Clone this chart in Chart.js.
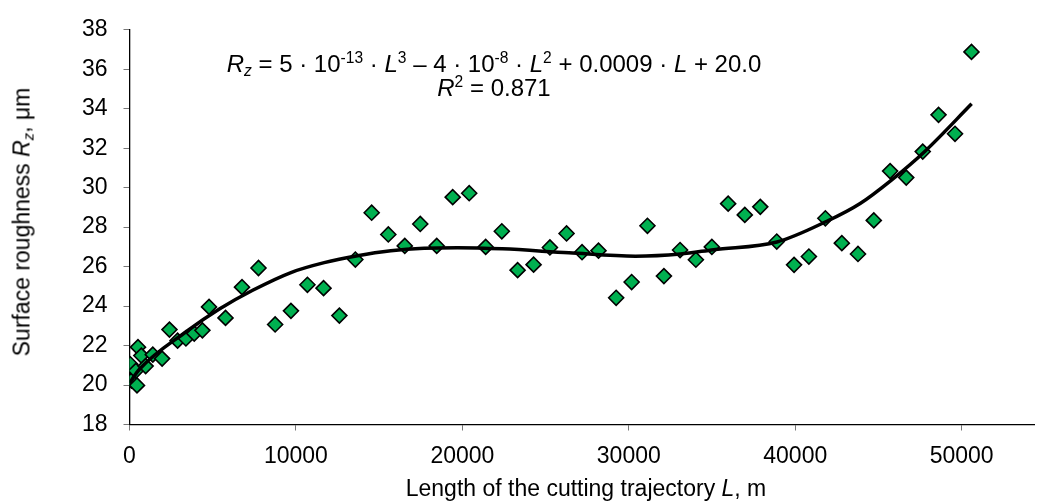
<!DOCTYPE html>
<html>
<head>
<meta charset="utf-8">
<script src="https://cdn.jsdelivr.net/npm/chart.js@4.4.1/dist/chart.umd.min.js"></script>
<style>
    body { margin: 0; background: #fff; }
    #wrap { position: relative; width: 1044px; height: 504px; font-family: "Liberation Sans", Arial, sans-serif; color: #000; }
    #chart { position: absolute; left: 0; top: 0; }
    .lbl { position: absolute; white-space: nowrap; font-size: 23px; line-height: 23px; }
    #eq { position: absolute; left: 494px; top: 52px; transform: translateX(-50%); text-align: center; white-space: nowrap; font-size: 24px; line-height: 24px; }
    sup, sub { font-size: 0.65em; line-height: 0; }
    sup { vertical-align: 0.55em; }
    sub { vertical-align: -0.25em; }
    #ytitle { left: 22px; top: 222px; transform: translate(-50%, -50%) rotate(-90deg); }
    #xtitle { left: 586px; top: 477px; transform: translateX(-50%); }
</style>
</head>
<body>
<div id="wrap">
    <canvas id="chart" width="1044" height="504"></canvas>
    <div id="eq"><i>R</i><sub><i>z</i></sub> = 5 · 10<sup>-13</sup> · <i>L</i><sup>3</sup> – 4 · 10<sup>-8</sup> · <i>L</i><sup>2</sup> + 0.0009 · <i>L</i> + 20.0<br><i>R</i><sup>2</sup> = 0.871</div>
    <div class="lbl" id="ytitle">Surface roughness <i>R</i><sub><i>z</i></sub>, μm</div>
    <div class="lbl" id="xtitle">Length of the cutting trajectory <i>L</i>, m</div>
</div>
<script>
/* =======================
   DATA
======================= */
const lengthL = [50, 120, 380, 450, 510, 710, 970, 1400, 1960, 2400, 2890, 3390, 3890, 4380, 4780,
    5770, 6760, 7750, 8750, 9700, 10690, 11660, 12610, 13570, 14550, 15550, 16540, 17470, 18460,
    19420, 20410, 21400, 22370, 23320, 24280, 25260, 26260, 27190, 28180, 29240, 30170, 31120,
    32110, 33080, 34030, 34990, 35970, 36970, 37900, 38890, 39930, 40820, 41810, 42800, 43770,
    44720, 45700, 46670, 47660, 48610, 49600, 50590];
const roughness = [21.05, 20.22, 20.72, 19.98, 21.92, 21.49, 20.96, 21.54, 21.34, 22.81, 22.25, 22.36, 22.61, 22.77, 23.96,
    23.40, 24.96, 25.93, 23.07, 23.76, 25.08, 24.91, 23.52, 26.36, 28.73, 27.63, 27.05, 28.16, 27.05,
    29.52, 29.72, 27.00, 27.79, 25.82, 26.10, 26.97, 27.68, 26.73, 26.81, 24.42, 25.22, 28.07,
    25.52, 26.84, 26.35, 27.00, 29.19, 28.62, 29.03, 27.27, 26.09, 26.51, 28.45, 27.19, 26.64,
    28.34, 30.84, 30.51, 31.83, 33.69, 32.73, 36.88];

// trend line
const trendL = [0, 600, 3400, 5400, 7400, 9700, 11700, 13700, 15700, 17700, 19700, 22400, 26400,
    30400, 33100, 35100, 38900, 41900, 43900, 45800, 47800, 50600];
const trendRz = [20.1, 20.8, 22.7, 23.85, 24.8, 25.7, 26.2, 26.55, 26.8, 26.93, 26.96, 26.9, 26.7,
    26.53, 26.64, 26.86, 27.25, 28.3, 29.2, 30.4, 31.85, 34.25];

const xTicks = [0, 10000, 20000, 30000, 40000, 50000];
const yTicks = [18, 20, 22, 24, 26, 28, 30, 32, 34, 36, 38];

/* =======================
   CHART
======================= */
const tickFont = { family: "'Liberation Sans', Arial, sans-serif", size: 23 };

new Chart(document.getElementById("chart"), {
    type: "scatter",
    data: {
        datasets: [
            {
                type: "line",
                data: trendL.map((x, i) => ({ x: x, y: trendRz[i] })),
                borderColor: "#000",
                borderWidth: 3.5,
                pointRadius: 0,
                fill: false,
                cubicInterpolationMode: "monotone",
                order: 0
            },
            {
                data: lengthL.map((x, i) => ({ x: x, y: roughness[i] })),
                pointStyle: "rectRot",
                pointRadius: 7.5,
                pointHoverRadius: 7.5,
                backgroundColor: "#00B050",
                borderColor: "#000",
                borderWidth: 1.6,
                order: 1
            }
        ]
    },
    options: {
        responsive: false,
        animation: false,
        devicePixelRatio: 1,
        layout: { padding: { top: 20, right: 0, left: 0, bottom: 0 } },
        plugins: { legend: { display: false }, tooltip: { enabled: false } },
        scales: {
            x: {
                type: "linear",
                min: 0,
                max: 54400,
                afterBuildTicks: s => { s.ticks = xTicks.map(v => ({ value: v })); },
                afterFit: s => { s.height = 79.5; },
                border: { display: true, color: "#000", width: 1.3 },
                grid: { drawOnChartArea: false, drawTicks: true, tickLength: 6, color: "#777" },
                ticks: { color: "#000", font: tickFont, padding: 12, maxRotation: 0, callback: v => String(v) }
            },
            y: {
                min: 18,
                max: 38,
                afterBuildTicks: s => { s.ticks = yTicks.map(v => ({ value: v })); },
                afterFit: s => { s.width = 129.5; },
                border: { display: true, color: "#000", width: 1.3 },
                grid: { drawOnChartArea: false, drawTicks: true, tickLength: 6, color: "#777" },
                ticks: { color: "#000", font: tickFont, padding: 16, callback: v => String(v) }
            }
        }
    }
});
</script>
</body>
</html>
